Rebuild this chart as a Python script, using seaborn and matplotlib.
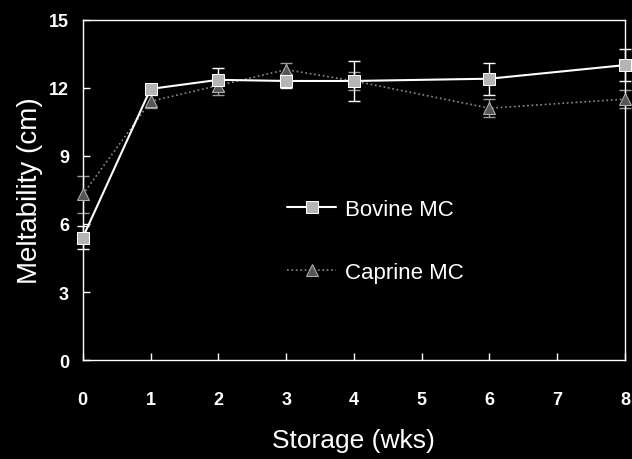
import matplotlib
matplotlib.use("Agg")
import matplotlib.pyplot as plt
import seaborn as sns
import pandas as pd

weeks = [0, 1, 2, 3, 4, 6, 8]
bovine = [5.4, 11.95, 12.35, 12.3, 12.3, 12.4, 13.0]
bovine_err = [0.5, 0.2, 0.5, 0.3, 0.9, 0.7, 0.7]
caprine = [7.3, 11.4, 12.1, 12.8, 12.3, 11.1, 11.5]
caprine_err = [0.8, 0.3, 0.4, 0.3, 0.4, 0.4, 0.4]
xticks = [0, 1, 2, 3, 4, 5, 6, 7, 8]
yticks = [0, 3, 6, 9, 12, 15]

sns.set_style("dark", {"axes.facecolor": "black", "figure.facecolor": "black"})
plt.rcParams['font.family'] = ['Liberation Sans', 'DejaVu Sans']

fig = plt.figure(figsize=(6.32, 4.6), dpi=100, facecolor="black")
ax = fig.add_axes([0.131, 0.215, 0.858, 0.74])
ax.set_facecolor("black")

df = pd.DataFrame({"week": weeks * 2,
                   "melt": bovine + caprine,
                   "group": ["Bovine MC"] * len(weeks) + ["Caprine MC"] * len(weeks)})

ax.errorbar(weeks, caprine, yerr=caprine_err, fmt="none", ecolor="#9a9a9a",
            elinewidth=1, capsize=4, capthick=1, zorder=2, clip_on=False)
ax.errorbar(weeks, bovine, yerr=bovine_err, fmt="none", ecolor="white",
            elinewidth=1, capsize=4, capthick=1, zorder=3, clip_on=False)

sns.lineplot(data=df[df.group == "Caprine MC"], x="week", y="melt", ax=ax,
             color="#8c8c8c", linestyle=":", linewidth=1.2, marker="^",
             markersize=9, markerfacecolor="#555555", markeredgecolor="#b0b0b0",
             label="Caprine MC", zorder=4, clip_on=False)
sns.lineplot(data=df[df.group == "Bovine MC"], x="week", y="melt", ax=ax,
             color="white", linestyle="-", linewidth=1.5, marker="s",
             markersize=9, markerfacecolor="#b5b5b5", markeredgecolor="white",
             label="Bovine MC", zorder=5, clip_on=False)

ax.set_xlim(0, 8)
ax.set_ylim(0, 15)
ax.set_xticks(xticks)
ax.set_yticks(yticks)
ax.set_xticklabels([str(t) for t in xticks], fontweight="bold", fontsize=13, color="white")
ax.set_yticklabels([str(t) for t in yticks], fontweight="bold", fontsize=13, color="white")
ax.tick_params(axis="both", direction="in", length=5, width=1, colors="white",
               bottom=True, left=True, top=False, right=False)
ax.tick_params(axis="x", pad=22)
ax.tick_params(axis="y", pad=10)
for s in ax.spines.values():
    s.set_visible(True)
    s.set_color("white")
    s.set_linewidth(1)
ax.grid(False)

ax.set_xlabel("Storage (wks)", fontsize=19, color="white", labelpad=15)
ax.set_ylabel("Meltability (cm)", fontsize=20, color="white", labelpad=4)

h, l = ax.get_legend_handles_labels()
order = [l.index("Bovine MC"), l.index("Caprine MC")]
leg = ax.legend([h[i] for i in order], [l[i] for i in order], loc="center",
                bbox_to_anchor=(0.54, 0.35), frameon=False, fontsize=16,
                labelcolor="white", labelspacing=1.9, handlelength=2.2,
                handletextpad=0.4)

fig.savefig("out.png", dpi=100, facecolor="black")
